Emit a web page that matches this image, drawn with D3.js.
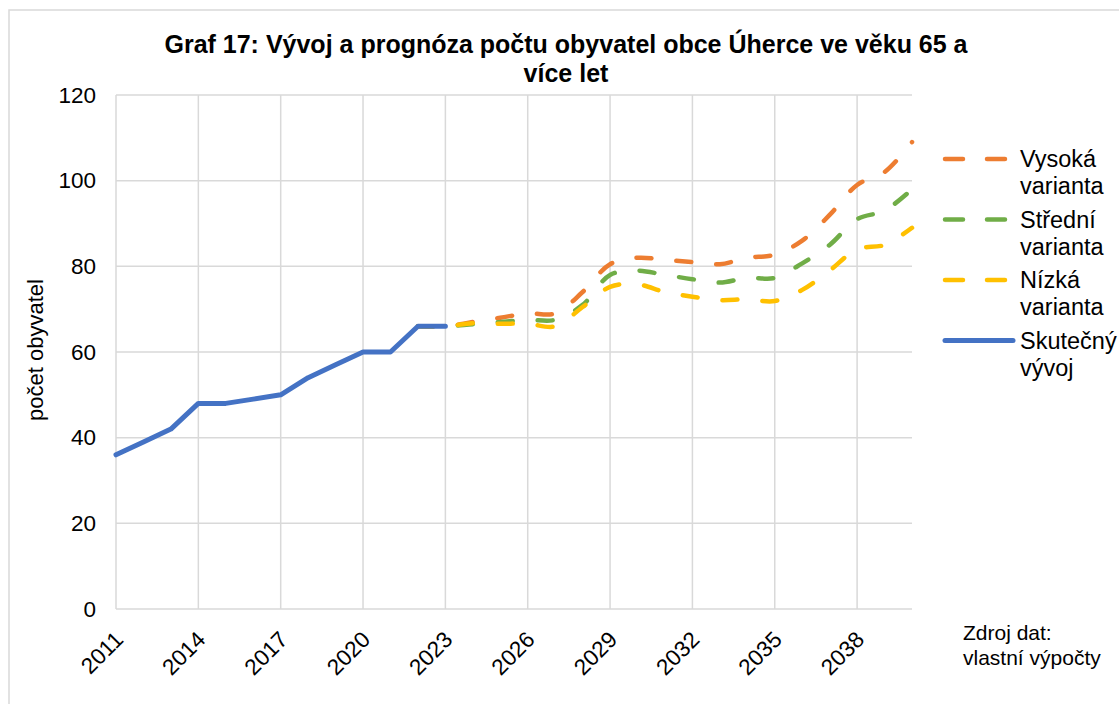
<!DOCTYPE html>
<html>
<head>
<meta charset="utf-8">
<script src="https://cdn.jsdelivr.net/npm/d3@7"></script>
<style>
  body { margin: 0; background: #fff; }
  text { font-family: "Liberation Sans", Arial, sans-serif; fill: #000; }
</style>
</head>
<body>
<script>
// Data
const years = [2011, 2012, 2013, 2014, 2015, 2016, 2017, 2018, 2019, 2020,
               2021, 2022, 2023, 2024, 2025, 2026, 2027, 2028, 2029, 2030,
               2031, 2032, 2033, 2034, 2035, 2036, 2037, 2038, 2039, 2040];
const tickYears = [2011, 2014, 2017, 2020, 2023, 2026, 2029, 2032, 2035, 2038];
const yTicks = [0, 20, 40, 60, 80, 100, 120];

// actual development 2011-2023
const actualYears = [2011, 2012, 2013, 2014, 2015, 2016, 2017, 2018, 2019, 2020, 2021, 2022, 2023];
const actual = [36, 39, 42, 48, 48, 49, 50, 54, 57, 60, 60, 66, 66];

// projections 2022-2040
const projYears = [2022, 2023, 2024, 2025, 2026, 2027, 2028, 2029, 2030, 2031,
                   2032, 2033, 2034, 2035, 2036, 2037, 2038, 2039, 2040];
const high = [66, 66, 67, 68, 69, 69, 74, 80.5, 82, 81.5, 81, 80.5, 82, 82.7, 86, 92, 99, 102, 109];
const mid  = [66, 66, 66.5, 67, 67.5, 67.5, 71, 78, 79, 78, 77, 76.2, 77.3, 77.3, 80.7, 85, 91, 93, 98];
const low  = [66, 66, 66.7, 66.6, 66.6, 66, 70.5, 75.2, 75.8, 74, 72.9, 72.1, 72.3, 71.9, 74.5, 79, 84, 85, 89];

const legendLabels = [["Vysoká", "varianta"], ["Střední", "varianta"], ["Nízká", "varianta"], ["Skutečný", "vývoj"]];
const colors = ["#ED7D31", "#70AD47", "#FFC000", "#4472C4"];

const W = 1119, H = 704;
const margin = {top: 95, right: 207, bottom: 95, left: 116};
const width = W - margin.left - margin.right;
const height = H - margin.top - margin.bottom;

const svg = d3.select("body").append("svg")
    .attr("width", W)
    .attr("height", H);

// chart frame
svg.append("rect")
    .attr("x", 9).attr("y", 10)
    .attr("width", W + 20).attr("height", H + 20)
    .attr("fill", "none")
    .attr("stroke", "#d9d9d9")
    .attr("stroke-width", 1.5);

// title
const title = svg.append("text")
    .attr("text-anchor", "middle")
    .style("font-weight", "bold")
    .style("font-size", "25px");
title.append("tspan").attr("x", 566).attr("y", 53)
    .text("Graf 17: Vývoj a prognóza počtu obyvatel obce Úherce ve věku 65 a");
title.append("tspan").attr("x", 566).attr("y", 82).text("více let");

const g = svg.append("g")
    .attr("transform", "translate(" + margin.left + "," + margin.top + ")");

const xScale = d3.scalePoint()
    .domain(years)
    .range([0, width]);

const yScale = d3.scaleLinear()
    .domain([0, 120])
    .range([height, 0]);

// gridlines
g.append("g")
    .selectAll("line")
    .data(yTicks)
    .enter().append("line")
    .attr("x1", 0).attr("x2", width)
    .attr("y1", d => yScale(d)).attr("y2", d => yScale(d))
    .attr("stroke", "#d9d9d9")
    .attr("stroke-width", 1.5);

g.append("g")
    .selectAll("line")
    .data(tickYears)
    .enter().append("line")
    .attr("x1", d => xScale(d)).attr("x2", d => xScale(d))
    .attr("y1", 0).attr("y2", height)
    .attr("stroke", "#d9d9d9")
    .attr("stroke-width", 1.5);

// y axis labels
const yAxis = g.append("g")
    .call(d3.axisLeft(yScale).tickValues(yTicks).tickSize(0).tickPadding(20));
yAxis.select(".domain").remove();
yAxis.selectAll("text")
    .style("font-family", "Liberation Sans, Arial, sans-serif")
    .style("font-size", "22.5px")
    .attr("fill", "#000");

// x axis labels
const xAxis = g.append("g")
    .attr("transform", "translate(0," + height + ")")
    .call(d3.axisBottom(xScale).tickValues(tickYears).tickSize(0));
xAxis.select(".domain").remove();
xAxis.selectAll("text")
    .style("font-family", "Liberation Sans, Arial, sans-serif")
    .style("font-size", "22.5px")
    .attr("fill", "#000")
    .attr("text-anchor", "end")
    .attr("y", 0)
    .attr("dy", 0)
    .attr("transform", "translate(8,32) rotate(-45)");

// y axis title
svg.append("text")
    .attr("transform", "translate(43,350) rotate(-90)")
    .attr("text-anchor", "middle")
    .style("font-size", "22px")
    .text("počet obyvatel");

// lines
const smooth = d3.line()
    .x((d, i) => xScale(projYears[i]))
    .y(d => yScale(d))
    .curve(d3.curveCatmullRom.alpha(0.5));

[high, mid, low].forEach((series, k) => {
    g.append("path")
        .datum(series)
        .attr("d", smooth)
        .attr("fill", "none")
        .attr("stroke", colors[k])
        .attr("stroke-width", 4.5)
        .attr("stroke-linecap", "round")
        .attr("stroke-dasharray", "15,25");
});

const straight = d3.line()
    .x((d, i) => xScale(actualYears[i]))
    .y(d => yScale(d));

g.append("path")
    .datum(actual)
    .attr("d", straight)
    .attr("fill", "none")
    .attr("stroke", colors[3])
    .attr("stroke-width", 5)
    .attr("stroke-linecap", "round")
    .attr("stroke-linejoin", "round");

// legend
const legend = svg.selectAll(".legend")
    .data(legendLabels)
    .enter().append("g")
    .attr("class", "legend")
    .attr("transform", (d, i) => "translate(943," + (159 + i * 60.5) + ")");

legend.append("line")
    .attr("x1", 2).attr("x2", (d, i) => i === 3 ? 70 : 66)
    .attr("y1", 0).attr("y2", 0)
    .attr("stroke", (d, i) => colors[i])
    .attr("stroke-width", (d, i) => i === 3 ? 5 : 4.5)
    .attr("stroke-linecap", "round")
    .attr("stroke-dasharray", (d, i) => i === 3 ? null : "18,24");

const lt = legend.append("text")
    .style("font-size", "23.5px");
lt.append("tspan").attr("x", 77).attr("y", 8).text(d => d[0]);
lt.append("tspan").attr("x", 77).attr("y", 35).text(d => d[1]);

// source note
const src = svg.append("text").style("font-size", "21px");
src.append("tspan").attr("x", 963).attr("y", 640).text("Zdroj dat:");
src.append("tspan").attr("x", 963).attr("y", 665).text("vlastní výpočty");
</script>
</body>
</html>
